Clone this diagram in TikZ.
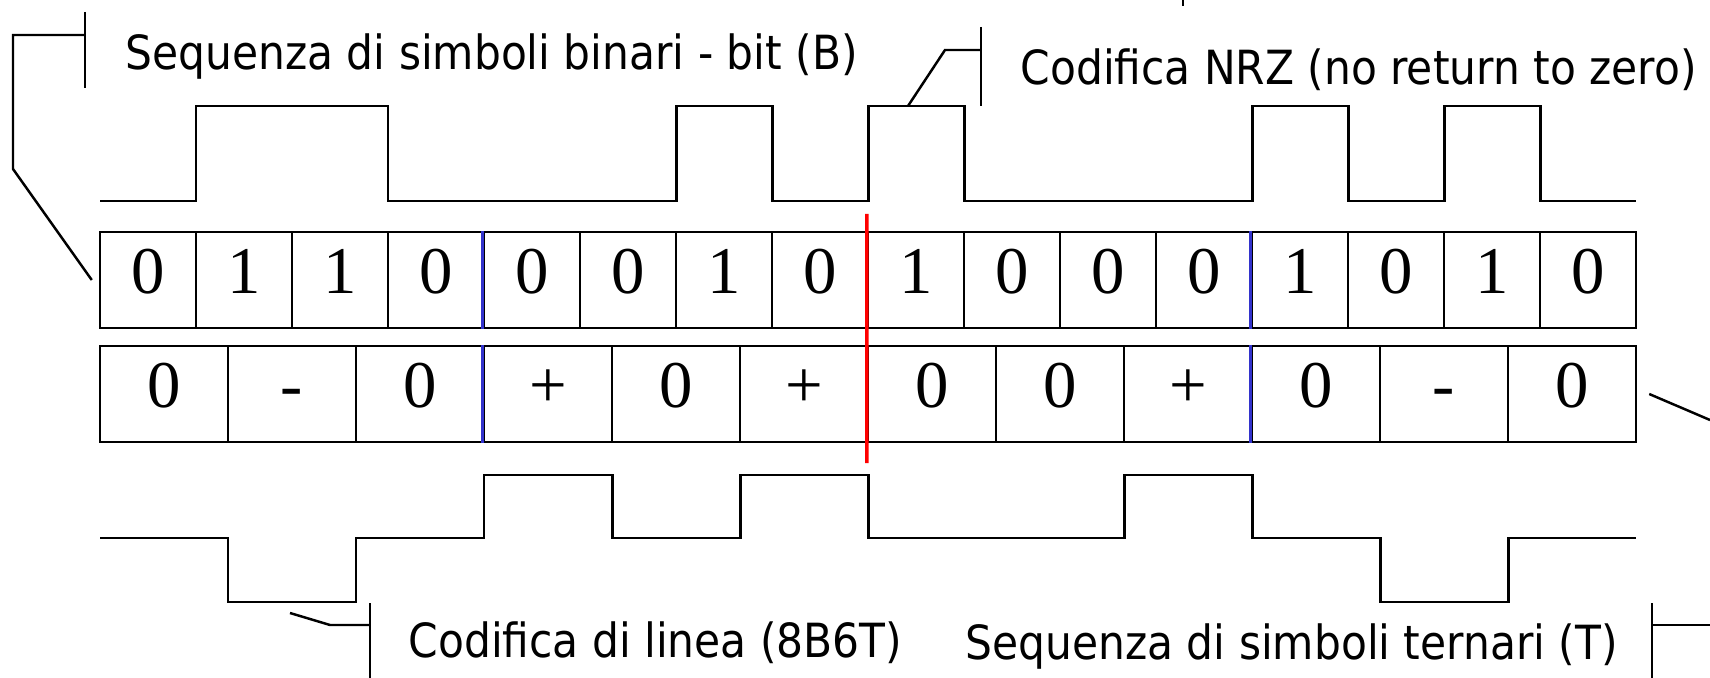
\documentclass[tikz,border=0pt]{standalone}
\usepackage{fontspec}
\newfontfamily\lblfont{DejaVu Sans Condensed}
\newfontfamily\cellfont{Liberation Serif}
\definecolor{sepblue}{RGB}{51,51,204}
\definecolor{cutred}{RGB}{255,0,0}
\begin{document}
\begin{tikzpicture}[x=0.1mm, y=-0.1mm, line join=miter,
  bit cell/.style={rectangle,draw,line width=0.7pt,minimum width=9.6mm,minimum height=9.6mm,inner sep=0pt,text height=0.75em,text depth=0pt,font=\cellfont\fontsize{19pt}{19pt}\selectfont},
  trit cell/.style={bit cell,minimum width=12.8mm},
  wave/.style={line width=0.85pt},
  lead/.style={line width=0.7pt},
  sep line/.style={sepblue,line width=0.9pt},
  cut line/.style={cutred,line width=1pt},
  label text/.style={anchor=base west,inner sep=0pt,font=\lblfont\fontsize{13.4pt}{16pt}\selectfont}]
\useasboundingbox (0,0) rectangle (1710,678);

% bit row and ternary row
\foreach \bitval [count=\i from 0] in {0,1,1,0,0,0,1,0,1,0,0,0,1,0,1,0}
  \node[bit cell] (b\i) at (148+96*\i,280) {\bitval};
\foreach \tritval [count=\i from 0] in {0,-,0,+,0,+,0,0,+,0,-,0}
  \node[trit cell] (t\i) at (164+128*\i,394) {\tritval};

% groups of 4 bits / 3 symbols
\draw[sep line] (b4.north west) -- (b4.south west);
\draw[sep line] (b12.north west) -- (b12.south west);
\draw[sep line] (t3.north west) -- (t3.south west);
\draw[sep line] (t9.north west) -- (t9.south west);
\draw[cut line] ([yshift=1.7mm]b8.north west) -- ([yshift=-2mm]t6.south west);

% NRZ waveform
\draw[wave] (100,201) -| (196,106) -| (388,201) -| (676,106) -| (772,201) -| (868,106) -| (964,201)
  -| (1252,106) -| (1348,201) -| (1444,106) -| (1540,201) -- (1636,201);
% 8B6T waveform
\draw[wave] (100,538) -| (228,602) -| (356,538) -| (484,475) -| (612,538) -| (740,475) -| (868,538)
  -| (1124,475) -| (1252,538) -| (1380,602) -| (1508,538) -- (1636,538);

% callouts
\node[label text] (lblB) at (125,70) {Sequenza di simboli binari - bit (B)};
\draw[lead] (85,12) -- (85,88);
\draw[lead] (85,35) -- (13,35) -- (13,169) -- ([xshift=-0.7mm]b0.west);

\node[label text] (lblNRZ) at (1020,85) {Codifica NRZ (no return to zero)};
\draw[lead] (981,27) -- (981,106);
\draw[lead] (981,50) -- (945,50) -- (908,106);

\node[label text] (lblLine) at (408,657) {Codifica di linea (8B6T)};
\draw[lead] (370,603) -- (370,678);
\draw[lead] (370,625) -- (330,625) -- (290,613);

\node[label text] (lblT) at (965,659) {Sequenza di simboli ternari (T)};
\draw[lead] (1652,603) -- (1652,678);
\draw[lead] (1652,625) -- (1710,625);
\draw[lead] ([xshift=1.2mm]t11.east) -- (1710,420);

\draw[lead] (1183,0) -- (1183,6);
\end{tikzpicture}
\end{document}
